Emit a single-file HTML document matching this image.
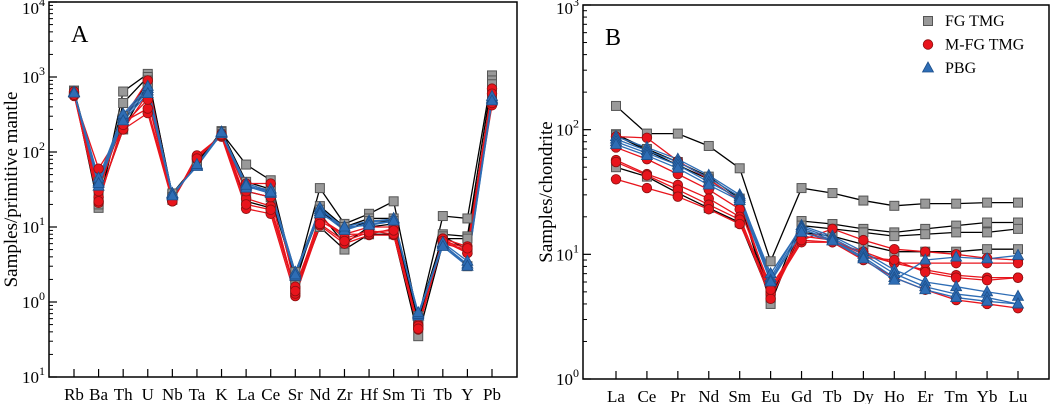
<!DOCTYPE html>
<html><head><meta charset="utf-8"><style>
body{margin:0;background:#fff}
svg{display:block;font-family:"Liberation Serif",serif}
</style></head><body>
<svg id="c" width="1052" height="404" viewBox="0 0 1052 404"></svg>
<script>
const catsA=["Rb","Ba","Th","U","Nb","Ta","K","La","Ce","Sr","Nd","Zr","Hf","Sm","Ti","Tb","Y","Pb"];
const fgA=[
[650,18,640,1100,25,75,180,68,42,2.0,33,11,15,22,0.6,14,13,1050],
[650,20,450,1000,27,70,190,40,32,1.8,19,10,13,13,0.5,8,7.5,900],
[640,35,250,900,23,80,170,22,18,1.4,10,5,8,8,0.35,6,3,800],
[660,40,300,700,28,70,185,30,25,2.2,15,6,10,11,0.55,7,7,500],
[640,25,200,800,25,75,175,35,30,2.5,17,9,12,12,0.65,7.5,5,600]];
const mfgA=[
[560,60,200,330,22,88,160,17.5,15,1.2,10.5,6,7.8,7.8,0.43,7,5.5,700],
[600,21,250,380,23,85,170,24,19,1.5,13,8,8,9.5,0.45,6.5,4.5,420],
[620,25,200,600,22,90,165,30,25,1.3,14,7,9,8,0.5,6,5,450],
[640,30,280,900,24,80,175,38,38,1.6,12,8,10,10,0.48,7,4.5,500],
[580,22,230,500,22,82,170,20,17,1.4,11,6.5,8.5,9,0.44,6.5,5.2,600]];
const pbgA=[
[620,40,300,700,28,65,180,38,30,2.4,17,10,12,12.5,0.7,6,3,520],
[620,35,280,650,27,66,185,35,28,2.2,18,9.5,11,12,0.65,5.8,3.2,500],
[630,45,320,750,28,64,175,33,32,2.5,16,9,11.5,13,0.68,6.2,3.5,550],
[610,38,260,600,26,68,182,36,29,2.3,15,10,10.5,12,0.72,5.5,3,480]];
const catsB=["La","Ce","Pr","Nd","Sm","Eu","Gd","Tb","Dy","Ho","Er","Tm","Yb","Lu"];
const fgB=[
[155,93,93,74,49,8.8,34,31,27,24.5,25.5,25.5,26,26],
[92,70,55,42,28,4.5,18.5,17.5,16,15,16,17,18,18],
[90,68,52,40,27,4.0,17,16,15,14,14.5,15,15,16],
[50,42,31,23.5,18,4.5,15,14,12,10.5,10.5,10.5,11,11]];
const mfgB=[
[88,86,56,40,27,5,12.5,12.5,10.5,8.5,7.5,6.8,6.5,6.5],
[72,58,44,33,23,5.5,13,16,13,11,10.5,10,9.3,9],
[57,44,36,28,20,4.8,15,13,10,8.5,8.5,8.5,8.5,8.5],
[55,43,33,25,19,4.4,14,13,9.5,9,7.2,6.5,6.2,6.5],
[40,34,29,23,17.5,5.2,13,12.5,9,6.5,5.2,4.3,4,3.7]];
const pbgB=[
[88,72,58,43,30,6.5,17,14,10.5,7.5,6,5.5,5,4.6],
[84,68,55,41,29,7,16.5,13.5,10,7,5.5,4.8,4.5,4],
[80,65,52,38,28,6.2,16,13,9.5,6.5,5.2,4.5,4.2,4],
[76,62,49,36,27,6,15,12.8,9.2,6.2,9,9.5,9.2,9.8]];
const legendLabels=["FG TMG","M-FG TMG","PBG"];

const NS="http://www.w3.org/2000/svg";
const svg=document.getElementById('c');
function mk(t,a,p){const e=document.createElementNS(NS,t);for(const k in a)e.setAttribute(k,a[k]);(p||svg).appendChild(e);return e;}

function panel(o){
  const g=mk('g',{});
  
  
  const yS=v=>o.y1-(Math.log10(v)-o.lmin)/(o.lmax-o.lmin)*(o.y1-o.y0);
  const xS=i=>o.xa+(o.xb-o.xa)*i/(o.cats.length-1);
  for(let d=o.lmin;d<=o.lmax;d++){
    const y=yS(Math.pow(10,d));
    mk('line',{x1:o.x0,x2:o.x0+8,y1:y,y2:y,stroke:'#000','stroke-width':1.2},g);
    const t=mk('text',{x:o.x0-4,y:Math.max(y+6,14),'text-anchor':'end','font-size':17,fill:'#000'},g);
    
    
    t.innerHTML='10<tspan dy="-8" font-size="12">'+(d<0?'1':d)+'</tspan>';
    if(d<o.lmax)for(let m=2;m<10;m++){const ym=yS(m*Math.pow(10,d));mk('line',{x1:o.x0,x2:o.x0+4,y1:ym,y2:ym,stroke:'#000','stroke-width':1},g);}
  }
  o.cats.forEach((c,i)=>{
    const x=xS(i);
    mk('line',{x1:x,x2:x,y1:o.y1,y2:o.y1-8,stroke:'#000','stroke-width':1.2},g);
    const t=mk('text',{x:x,y:o.y1+23,'text-anchor':'middle','font-size':17,fill:'#000'},g);
    
    
    t.textContent=c;
  });
  const groups=[[o.fg,'#000','sq'],[o.mfg,'#e8141c','ci'],[o.pbg,'#2e6db5','tr']];
  groups.forEach(([data,col,sh])=>{
    data.forEach(s=>{
      const p=mk('polyline',{points:s.map((v,i)=>xS(i)+','+yS(v)).join(' '),fill:'none',stroke:col,'stroke-width':1.3},g);
      
      
    });
  });
  groups.forEach(([data,col,sh])=>{
    data.forEach(s=>s.forEach((v,i)=>{
      const m=marker(sh,xS(i),yS(v),g);
      
      
    }));
  });
  const fr=mk('rect',{x:o.x0,y:o.y0,width:o.x1-o.x0,height:o.y1-o.y0,fill:'none',stroke:'#000','stroke-width':1.5},g);
  
  
  const lt=mk('text',{x:o.x0+22,y:o.y0+40,'font-size':24,fill:'#000'},g);
  
  
  lt.textContent=o.label;
  const yt=mk('text',{transform:`translate(${o.ylx},${(o.y0+o.y1)/2}) rotate(-90)`,'text-anchor':'middle','font-size':19,fill:'#000'},g);
  
  
  yt.textContent=o.ytitle;
}
function marker(sh,x,y,g){
  if(sh==='sq')return mk('rect',{x:x-4.5,y:y-4.5,width:9,height:9,fill:'#999',stroke:'#555','stroke-width':1},g);
  if(sh==='ci')return mk('circle',{cx:x,cy:y,r:4.8,fill:'#e8141c',stroke:'#8a1010','stroke-width':0.8},g);
  return mk('polygon',{points:`${x},${y-6} ${x-5.5},${y+4} ${x+5.5},${y+4}`,fill:'#2e6db5',stroke:'#1d4f8a','stroke-width':0.8},g);
}
panel({name:'panel-a',cats:catsA,fg:fgA,mfg:mfgA,pbg:pbgA,x0:49,x1:517,y0:2,y1:377,lmin:-1,lmax:4,xa:74,xb:492,label:'A',ytitle:'Samples/primitive mantle',ylx:17});
panel({name:'panel-b',cats:catsB,fg:fgB,mfg:mfgB,pbg:pbgB,x0:583,x1:1049,y0:5,y1:379,lmin:0,lmax:3,xa:616,xb:1018,label:'B',ytitle:'Samples/chondrite',ylx:552});
const lg=mk('g',{});


const shapes=['sq','ci','tr'];
legendLabels.forEach((l,i)=>{
  const y=21+i*23.5;
  const m=marker(shapes[i],928,y,lg);
  
  
  const t=mk('text',{x:945,y:y+5,'font-size':16,fill:'#000'},lg);
  
  
  t.textContent=l;
});
</script>
</body></html>
